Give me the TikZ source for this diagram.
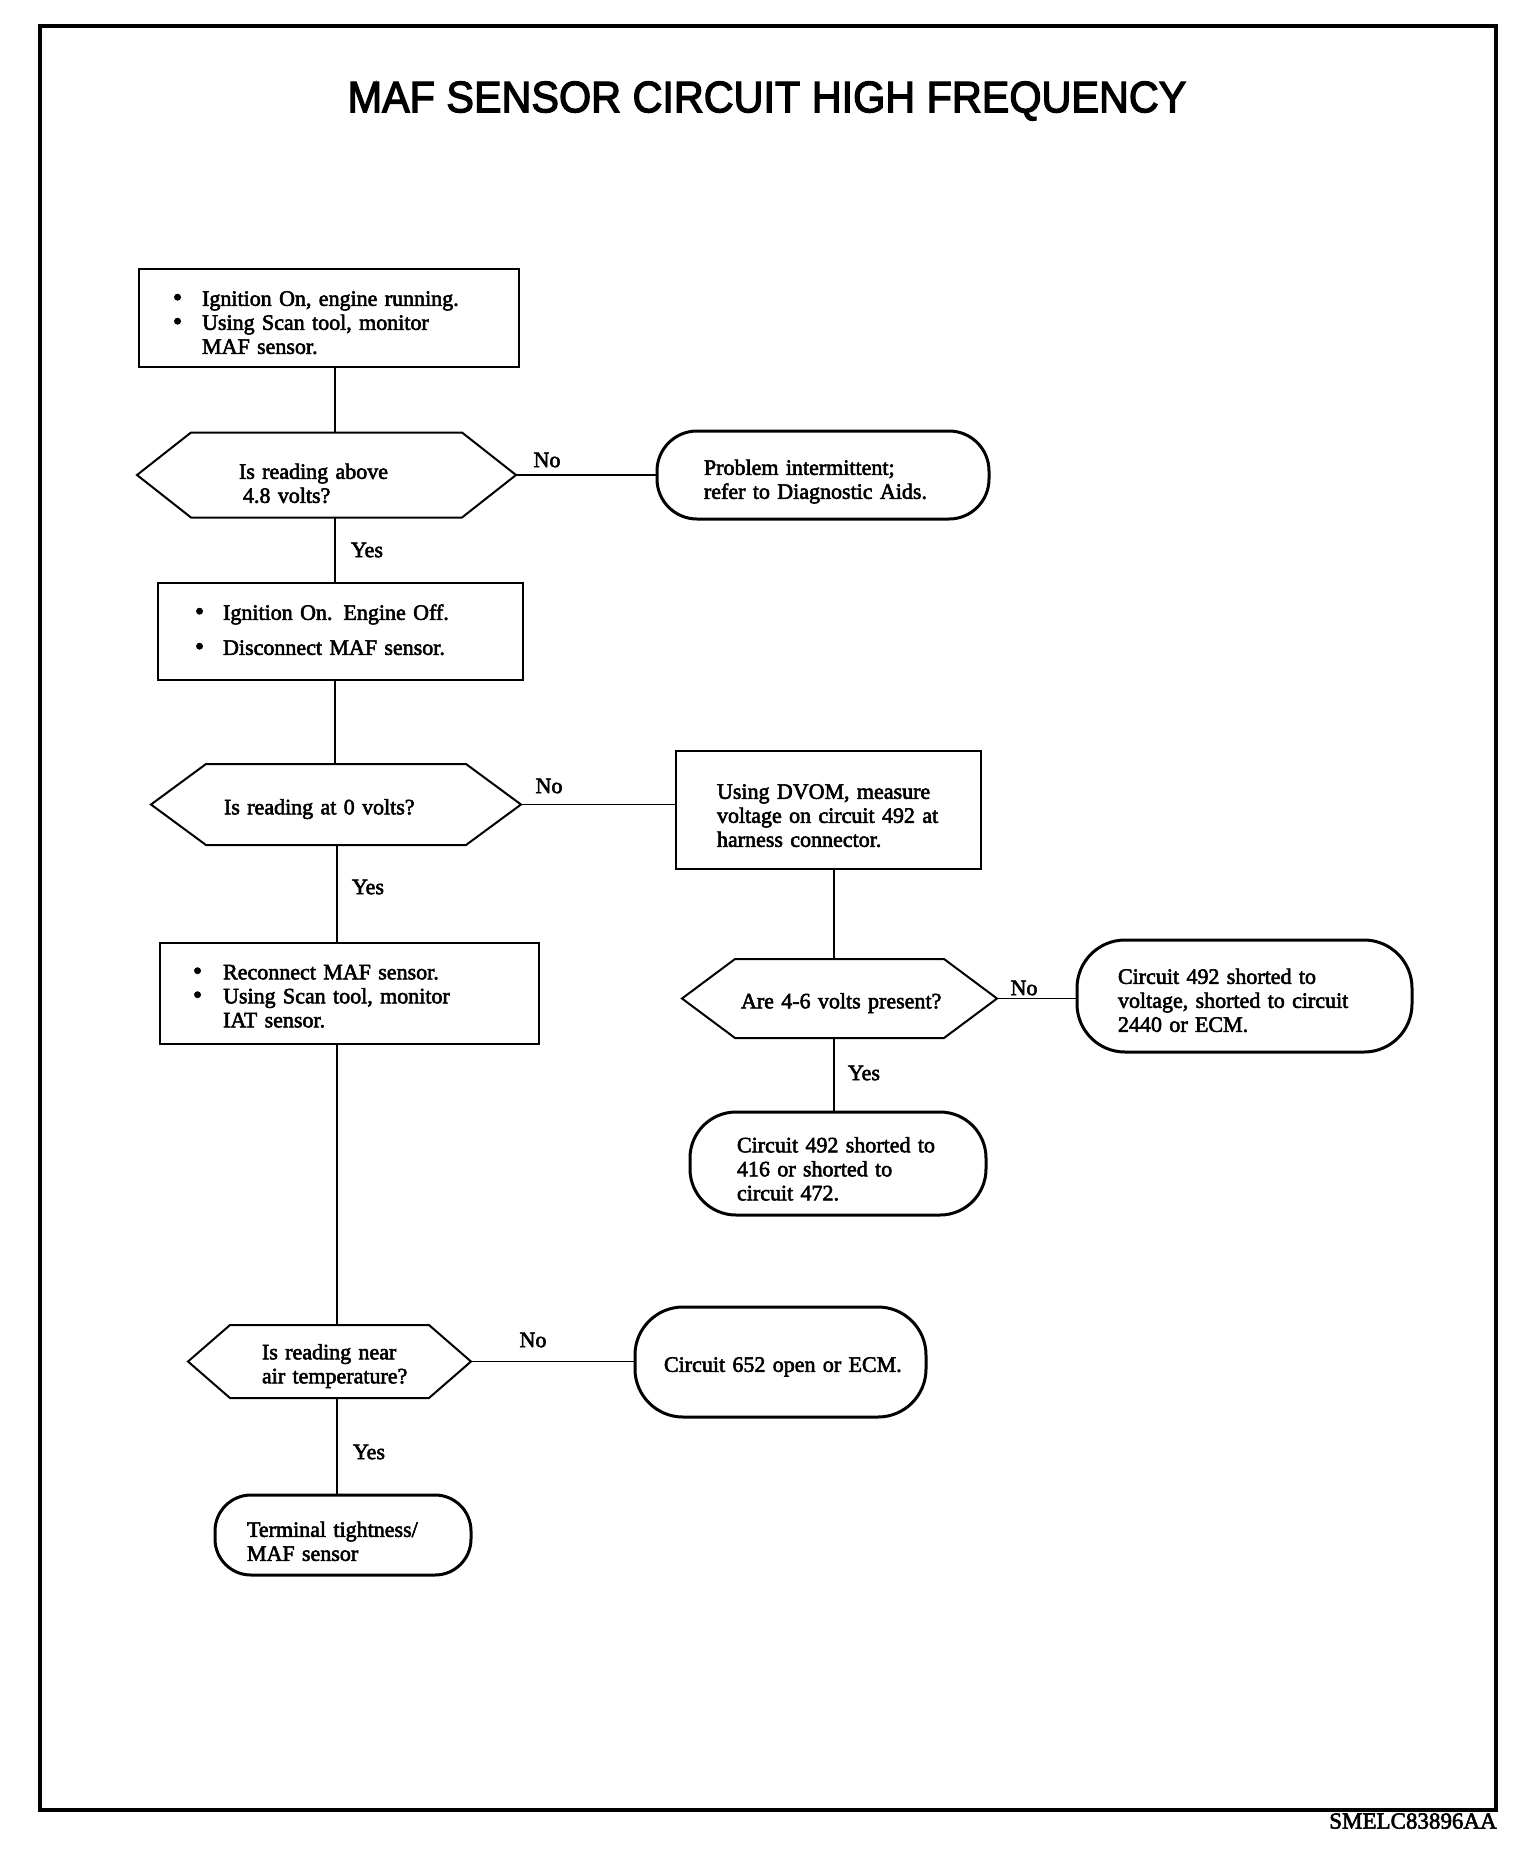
\documentclass[tikz,border=0pt]{standalone}
\usepackage{fontspec}
\setmainfont{Liberation Serif}[FakeBold=2.5]
\newfontfamily\titlefont{Liberation Sans}[FakeBold=3]
\usepackage{graphicx}
\usetikzlibrary{calc}

\tikzset{
  every node/.style={outer sep=0pt, font=\fontsize{22}{24}\selectfont},
  boxnode/.style={draw, rectangle, line width=2pt, align=left, inner ysep=2pt},
  ovalnode/.style={draw, rectangle, rounded corners=#1, line width=3pt, align=left, inner ysep=2pt},
  hexnode/.style={rectangle, align=left, inner ysep=2pt},
  hexline/.style={line width=2pt, line join=miter},
  link/.style={line width=1.5pt},
  lbl/.style={inner sep=0pt},
  frameline/.style={line width=3.5pt},
}
\newcommand\hexdraw[2]{\draw[hexline] (#1.west) -- ([xshift=#2]#1.north west) -- ([xshift=-#2]#1.north east) -- (#1.east) -- ([xshift=-#2]#1.south east) -- ([xshift=#2]#1.south west) -- cycle;}
\newcommand\bul{{\fontsize{26}{24}\selectfont\textbullet}}
\newcommand\dn[2]{\raisebox{-#1}[\height][\depth]{#2}}

\begin{document}
\begin{tikzpicture}[x=1pt,y=-1pt]
\useasboundingbox (0,0) rectangle (1536,1850);
\fill[white] (0,0) rectangle (1536,1850);
\draw[frameline] (40,26) rectangle (1496,1810);

\node[font=\titlefont\fontsize{44}{50}\selectfont] (title) at (767,101) {\scalebox{0.94}[1]{MAF SENSOR CIRCUIT HIGH FREQUENCY}};

% left column
\node[boxnode, minimum height=98pt, inner xsep=34pt, text width=312pt] (b1) at (329,318)
  {\dn{7pt}{\begin{tabular}{@{}l@{\hspace{20pt}}l@{}}\bul & Ignition On, engine running.\\ \bul & Using Scan tool, monitor\\ & MAF sensor.\end{tabular}}};

\node[hexnode, minimum height=85pt, inner xsep=102pt, text width=175pt] (h1) at (326.5,475)
  {\dn{11pt}{\begin{tabular}{@{}l@{}}Is reading above\\ \hspace{4pt}4.8 volts?\end{tabular}}};
\hexdraw{h1}{54}

\node[ovalnode=40pt, minimum height=88pt, inner xsep=47pt, text width=238pt] (o1) at (823,475)
  {\dn{7pt}{\begin{tabular}{@{}l@{}}Problem intermittent;\\ refer to Diagnostic Aids.\end{tabular}}};

\node[boxnode, minimum height=97pt, inner xsep=37pt, text width=291pt] (b2) at (340.5,631.5)
  {\dn{1pt}{\begin{tabular}{@{}l@{\hspace{19pt}}l@{}}\bul & Ignition On. Engine Off.\\[11pt] \bul & Disconnect MAF sensor.\end{tabular}}};

\node[hexnode, minimum height=81pt, inner xsep=73pt, text width=224pt] (h2) at (336,804.5)
  {\dn{5pt}{\begin{tabular}{@{}l@{}}Is reading at 0 volts?\end{tabular}}};
\hexdraw{h2}{55}

\node[boxnode, minimum height=118pt, inner xsep=41pt, text width=223pt] (b3) at (828.5,810)
  {\dn{8pt}{\begin{tabular}{@{}l@{}}Using DVOM, measure\\ voltage on circuit 492 at\\ harness connector.\end{tabular}}};

\node[hexnode, minimum height=79pt, inner xsep=59pt, text width=197pt] (h3) at (839.5,998.5)
  {\dn{5pt}{\begin{tabular}{@{}l@{}}Are 4-6 volts present?\end{tabular}}};
\hexdraw{h3}{53}

\node[ovalnode=48pt, minimum height=112pt, inner xsep=41pt, text width=253pt] (o3) at (1244.5,996)
  {\dn{7pt}{\begin{tabular}{@{}l@{}}Circuit 492 shorted to\\ voltage, shorted to circuit\\ 2440 or ECM.\end{tabular}}};

\node[ovalnode=46pt, minimum height=103pt, inner xsep=47pt, text width=202pt] (o2) at (838,1163.5)
  {\dn{8pt}{\begin{tabular}{@{}l@{}}Circuit 492 shorted to\\ 416 or shorted to\\ circuit 472.\end{tabular}}};

\node[boxnode, minimum height=101pt, inner xsep=33pt, text width=313pt] (b4) at (349.5,993.5)
  {\dn{5pt}{\begin{tabular}{@{}l@{\hspace{21pt}}l@{}}\bul & Reconnect MAF sensor.\\ \bul & Using Scan tool, monitor\\ & IAT sensor.\end{tabular}}};

\node[hexnode, minimum height=73pt, inner xsep=74pt, text width=135pt] (h4) at (329.5,1361.5)
  {\dn{5pt}{\begin{tabular}{@{}l@{}}Is reading near\\ air temperature?\end{tabular}}};
\hexdraw{h4}{42}

\node[ovalnode=48pt, minimum height=110pt, inner xsep=29pt, text width=233pt] (o4) at (780.5,1362)
  {\dn{5pt}{\begin{tabular}{@{}l@{}}Circuit 652 open or ECM.\end{tabular}}};

\node[ovalnode=36pt, minimum height=80pt, inner xsep=32pt, text width=192pt] (o5) at (343,1535)
  {\dn{9pt}{\begin{tabular}{@{}l@{}}Terminal tightness/\\ MAF sensor\end{tabular}}};

% spines
\coordinate (s1) at (335,0);
\coordinate (s2) at (337,0);
\coordinate (s3) at (834,0);

\draw[link] (b1.south -| s1) -- (h1.north -| s1);
\draw[link] (h1.south -| s1) -- (b2.north -| s1);
\draw[link] (b2.south -| s1) -- (h2.north -| s1);
\draw[link] (h2.south -| s2) -- (b4.north -| s2);
\draw[link] (b4.south -| s2) -- (h4.north -| s2);
\draw[link] (h4.south -| s2) -- (o5.north -| s2);
\draw[link] (b3.south -| s3) -- (h3.north -| s3);
\draw[link] (h3.south -| s3) -- (o2.north -| s3);

\draw[link] (h1.east) -- (h1.east -| o1.west);
\draw[link] (h2.east) -- (h2.east -| b3.west);
\draw[link] (h3.east) -- (h3.east -| o3.west);
\draw[link] (h4.east) -- (h4.east -| o4.west);

% labels
\node[lbl] (n1) at (547,460) {No};
\node[lbl] (y1) at (367,550) {Yes};
\node[lbl] (n2) at (549,786) {No};
\node[lbl] (y2) at (368,887) {Yes};
\node[lbl] (n3) at (1024,988) {No};
\node[lbl] (y3) at (864,1073) {Yes};
\node[lbl] (n4) at (533,1340) {No};
\node[lbl] (y4) at (369,1452) {Yes};

\node[anchor=east, font=\fontsize{23}{26}\selectfont] (code) at (1500,1821) {SMELC83896AA};
\end{tikzpicture}
\end{document}
